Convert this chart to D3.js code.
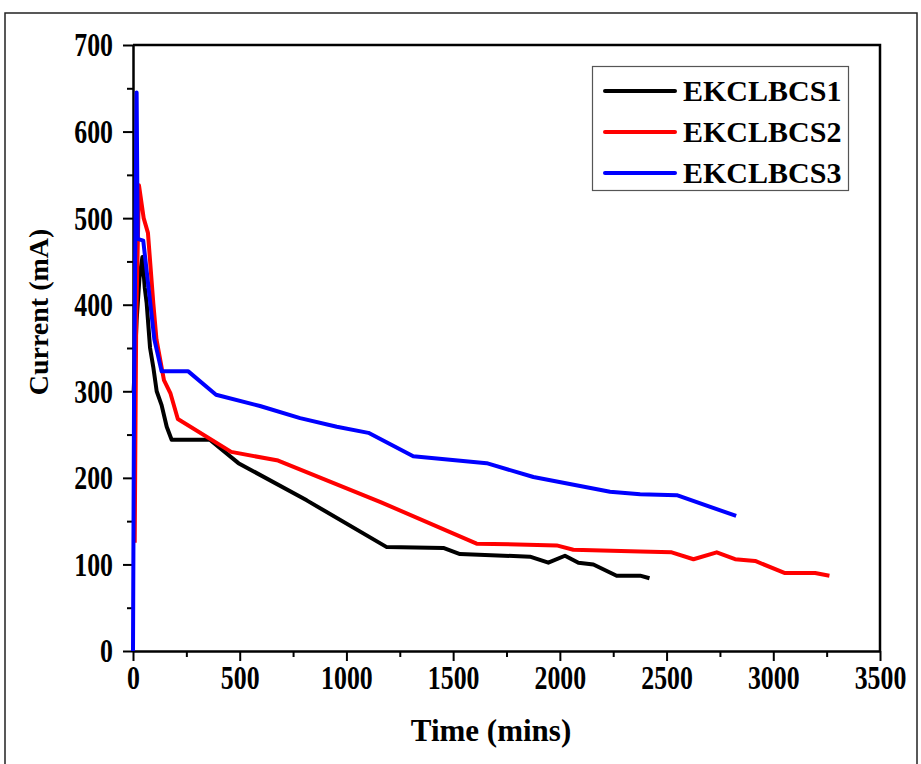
<!DOCTYPE html>
<html>
<head>
<meta charset="utf-8">
<script src="https://cdn.jsdelivr.net/npm/d3@7"></script>
<style>
  body { margin: 0; background: #fff; }
  svg { display: block; }
  text { font-family: "Liberation Serif", "Times New Roman", serif; font-weight: bold; fill: #000; }
</style>
</head>
<body>
<div id="chart"></div>
<script>
// Data (time in mins, current in mA)
const time1 = [3, 17, 30, 44, 55, 64, 80, 95, 111, 134, 158, 181, 360, 494, 814, 1189, 1454, 1532, 1860, 1946, 2024, 2087, 2157, 2266, 2376, 2420];
const current1 = [300, 382, 430, 455, 420, 402, 350, 328, 300, 284, 259, 244, 244, 217, 174, 120, 119, 112, 109, 102, 110, 102, 100, 87, 87, 84];

const time2 = [8, 15, 28, 50, 70, 95, 110, 145, 175, 210, 460, 680, 1160, 1610, 1985, 2063, 2376, 2524, 2626, 2735, 2821, 2915, 3055, 3196, 3263];
const current2 = [125, 380, 538, 500, 483, 402, 360, 313, 298, 268, 230, 220, 172, 124, 122, 117, 115, 114, 106, 114, 106, 104, 90, 90, 87];

const time3 = [0, 5, 17, 22, 48, 100, 134, 259, 389, 595, 783, 955, 1103, 1313, 1657, 1876, 2235, 2376, 2548, 2826];
const current3 = [0, 300, 645, 476, 474, 360, 323, 323, 296, 283, 269, 259, 252, 225, 217, 201, 184, 181, 180, 156];

const seriesNames = ["EKCLBCS1", "EKCLBCS2", "EKCLBCS3"];
const seriesColors = ["#000000", "#ff0000", "#0000ff"];

const xTicks = [0, 500, 1000, 1500, 2000, 2500, 3000, 3500];
const yTicks = [0, 100, 200, 300, 400, 500, 600, 700];

const W = 921, H = 764;
const plot = {left: 133, right: 880, top: 45, bottom: 651};

const svg = d3.select("#chart").append("svg")
    .attr("width", W)
    .attr("height", H);

svg.append("rect").attr("width", W).attr("height", H).attr("fill", "#fff");

// outer frame
svg.append("rect")
    .attr("x", 5).attr("y", 13)
    .attr("width", 912).attr("height", 770)
    .attr("fill", "none")
    .attr("stroke", "#222")
    .attr("stroke-width", 1.5);

const x = d3.scaleLinear().domain([0, 3500]).range([plot.left, plot.right]);
const y = d3.scaleLinear().domain([0, 700]).range([plot.bottom, plot.top]);

// minor ticks
svg.append("g")
    .attr("transform", `translate(0,${plot.bottom})`)
    .call(d3.axisBottom(x).tickValues(d3.range(250, 3500, 500)).tickSize(6).tickFormat(""))
    .call(g => g.select(".domain").remove())
    .selectAll("line").attr("stroke-width", 2);
svg.append("g")
    .attr("transform", `translate(${plot.left},0)`)
    .call(d3.axisLeft(y).tickValues(d3.range(50, 700, 100)).tickSize(6).tickFormat(""))
    .call(g => g.select(".domain").remove())
    .selectAll("line").attr("stroke-width", 2);

// major axes
const xAxis = svg.append("g")
    .attr("transform", `translate(0,${plot.bottom})`)
    .call(d3.axisBottom(x).tickValues(xTicks).tickFormat(d3.format("d"))
        .tickSize(10).tickSizeOuter(0).tickPadding(4));
const yAxis = svg.append("g")
    .attr("transform", `translate(${plot.left},0)`)
    .call(d3.axisLeft(y).tickValues(yTicks).tickFormat(d3.format("d"))
        .tickSize(10).tickSizeOuter(0));

[xAxis, yAxis].forEach(g => {
    g.select(".domain").attr("stroke-width", 2.5);
    g.selectAll(".tick line").attr("stroke-width", 2);
    g.selectAll(".tick text")
        .attr("font-size", 34)
        .attr("font-family", null)
        .attr("transform", "scale(0.76,1)");
});
yAxis.selectAll(".tick text").attr("x", -20 / 0.76);

// top and right border
svg.append("path")
    .attr("d", `M${plot.left},${plot.top}H${plot.right}V${plot.bottom}`)
    .attr("fill", "none")
    .attr("stroke", "#000")
    .attr("stroke-width", 2.5);

// lines
const line = d3.line().x(d => x(d[0])).y(d => y(d[1]));
const allSeries = [
    d3.zip(time1, current1),
    d3.zip(time2, current2),
    d3.zip(time3, current3)
];
allSeries.forEach((s, i) => {
    svg.append("path")
        .datum(s)
        .attr("d", line)
        .attr("fill", "none")
        .attr("stroke", seriesColors[i])
        .attr("stroke-width", 4)
        .attr("stroke-linejoin", "round");
});

// axis titles
svg.append("text")
    .attr("x", 491).attr("y", 741)
    .attr("text-anchor", "middle")
    .attr("font-size", 31)
    .text("Time (mins)");
svg.append("text")
    .attr("transform", "translate(48,312) rotate(-90)")
    .attr("text-anchor", "middle")
    .attr("font-size", 28)
    .text("Current (mA)");

// legend
const legend = svg.append("g");
legend.append("rect")
    .attr("x", 592.5).attr("y", 66.5)
    .attr("width", 256).attr("height", 124)
    .attr("fill", "#fff")
    .attr("stroke", "#555")
    .attr("stroke-width", 1.2);
seriesNames.forEach((name, i) => {
    const ly = 91 + i * 41;
    legend.append("line")
        .attr("x1", 605).attr("x2", 675)
        .attr("y1", ly).attr("y2", ly)
        .attr("stroke", seriesColors[i])
        .attr("stroke-width", 4)
        .attr("stroke-linecap", "round");
    legend.append("text")
        .attr("x", 683).attr("y", ly + 10)
        .attr("font-size", 30)
        .text(name);
});
</script>
</body>
</html>
